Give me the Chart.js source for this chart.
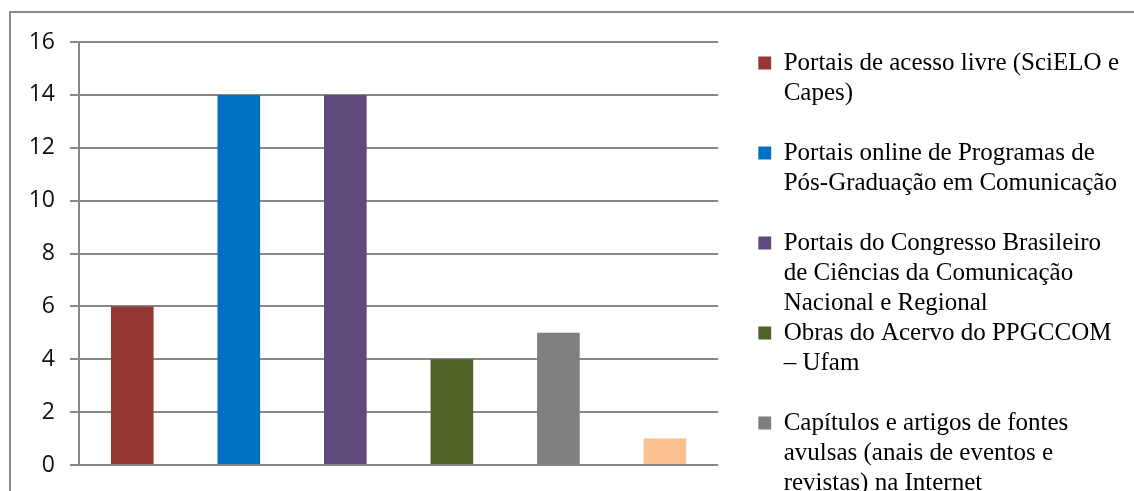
<!DOCTYPE html>
<html lang="pt">
<head>
<meta charset="utf-8">
<title>Fontes de pesquisa</title>
<script src="https://cdn.jsdelivr.net/npm/chart.js@4"></script>
<style>
  html, body { margin: 0; padding: 0; background: #fff; overflow: hidden; width: 1134px; height: 491px; }
  #moldura { position: absolute; left: 9px; top: 11px; width: 1200px; height: 700px;
             border-top: 2px solid #898989; border-left: 2px solid #898989; }
  #grafico { display: block; }
</style>
</head>
<body>
<div id="moldura"><canvas id="grafico" width="1118" height="600"></canvas></div>
<script>
// dados
const categorias = [
  ["Portais de acesso livre (SciELO e", "Capes)"],
  ["Portais online de Programas de", "Pós-Graduação em Comunicação"],
  ["Portais do Congresso Brasileiro", "de Ciências da Comunicação", "Nacional e Regional"],
  ["Obras do Acervo do PPGCCOM", "– Ufam"],
  ["Capítulos e artigos de fontes", "avulsas (anais de eventos e", "revistas) na Internet"],
  ["Outras fontes"],
];
const quantidades = [6, 14, 14, 4, 5, 1];
const cores = ["#953735", "#0070c0", "#604a7b", "#4f6228", "#7f7f7f", "#fac090"];
const marcasEixo = [0, 2, 4, 6, 8, 10, 12, 14, 16];

const corGrade = "#878787";

Chart.defaults.font.family = "'Open Sans', sans-serif";
Chart.defaults.color = "#000";

// cada item da legenda ocupa 3 linhas, como no original
function itensLegenda() {
  return categorias.map((linhas, i) => ({
    text: linhas.concat(Array(3 - linhas.length).fill("")),
    fillStyle: cores[i],
    strokeStyle: cores[i],
    fontColor: "#000",
    lineWidth: 0,
    hidden: false,
    index: i,
  }));
}

new Chart(document.getElementById("grafico"), {
  type: "bar",
  data: {
    labels: categorias,
    datasets: [
      {
        data: quantidades,
        backgroundColor: cores,
        borderWidth: 0,
        barPercentage: 0.4,
        categoryPercentage: 1,
      },
    ],
  },
  options: {
    responsive: false,
    animation: false,
    layout: { padding: { top: 29, right: 0, bottom: 0, left: 0 } },
    scales: {
      x: {
        grid: { display: false },
        border: { display: false },
        ticks: { display: false },
        afterFit: (s) => { s.height = 148; },
      },
      y: {
        min: marcasEixo[0],
        max: marcasEixo[marcasEixo.length - 1],
        ticks: {
          stepSize: marcasEixo[1] - marcasEixo[0],
          padding: 15,
          color: "#111",
          font: { size: 23 },
        },
        grid: { color: corGrade, lineWidth: 2, tickLength: 9 },
        border: { color: corGrade, width: 2 },
        afterFit: (s) => { s.width = 68; },
      },
      // espaco entre o grafico e a legenda
      espaco: {
        position: "right",
        grid: { display: false },
        border: { display: false },
        ticks: { display: false },
        afterFit: (s) => { s.width = 40; },
      },
    },
    plugins: {
      tooltip: { enabled: false },
      legend: {
        position: "right",
        align: "start",
        maxWidth: 375,
        title: { display: true, text: "", font: { size: 1, lineHeight: 1 }, padding: { top: 7.5, bottom: 0 } },
        labels: {
          boxWidth: 13,
          boxHeight: 13,
          padding: 0,
          color: "#000",
          font: { family: "'Liberation Serif', 'Times New Roman', serif", size: 25, lineHeight: 1.2 },
          generateLabels: itensLegenda,
        },
      },
    },
  },
});
</script>
</body>
</html>
